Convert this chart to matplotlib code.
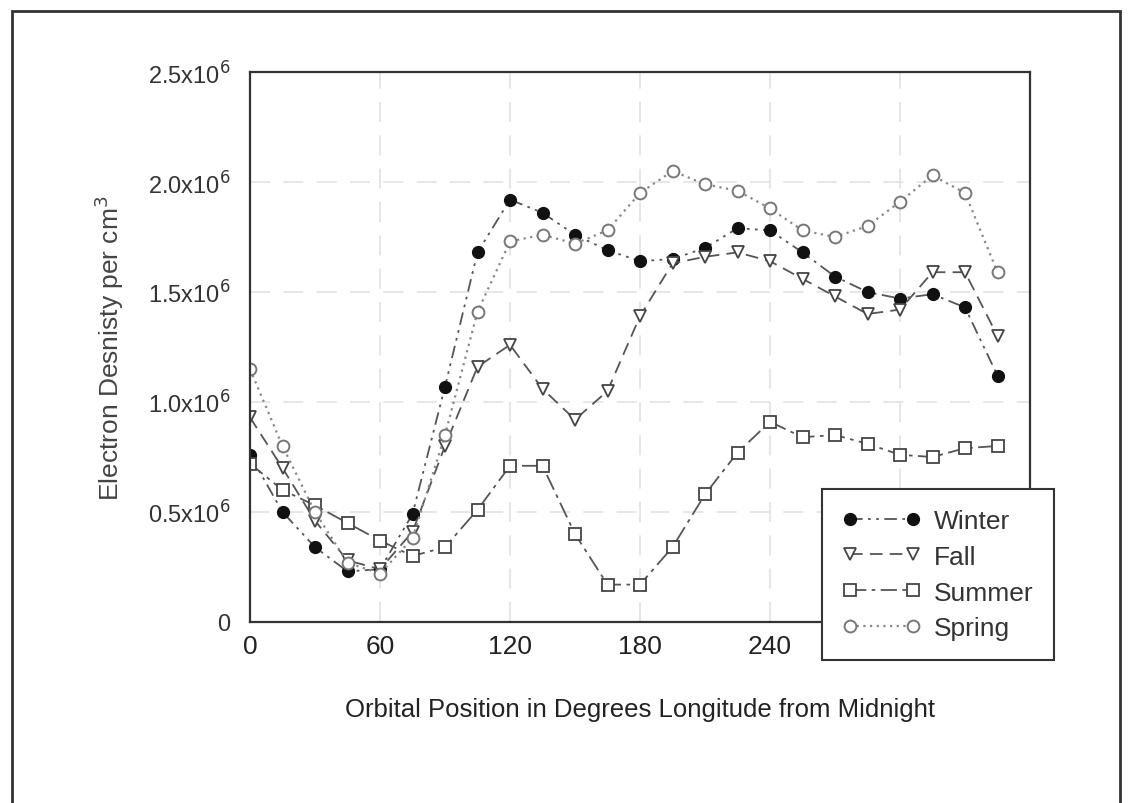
import matplotlib.pyplot as plt
from matplotlib.patches import Rectangle

# orbital position (degrees from midnight), 15 degree steps
longitude = list(range(0, 360, 15))

# electron density in units of 1e6 per cm^3
winter = [0.76, 0.50, 0.34, 0.23, 0.24, 0.49, 1.07, 1.68, 1.92, 1.86, 1.76, 1.69,
          1.64, 1.65, 1.70, 1.79, 1.78, 1.68, 1.57, 1.50, 1.47, 1.49, 1.43, 1.12]
fall = [0.93, 0.70, 0.46, 0.28, 0.24, 0.41, 0.80, 1.16, 1.26, 1.06, 0.92, 1.05,
        1.39, 1.63, 1.66, 1.68, 1.64, 1.56, 1.48, 1.40, 1.42, 1.59, 1.59, 1.30]
summer = [0.72, 0.60, 0.53, 0.45, 0.37, 0.30, 0.34, 0.51, 0.71, 0.71, 0.40, 0.17,
          0.17, 0.34, 0.58, 0.77, 0.91, 0.84, 0.85, 0.81, 0.76, 0.75, 0.79, 0.80]
spring = [1.15, 0.80, 0.50, 0.27, 0.22, 0.38, 0.85, 1.41, 1.73, 1.76, 1.72, 1.78,
          1.95, 2.05, 1.99, 1.96, 1.88, 1.78, 1.75, 1.80, 1.91, 2.03, 1.95, 1.59]

x_ticks = [0, 60, 120, 180, 240, 300, 360]
y_ticks = [0, 0.5, 1.0, 1.5, 2.0, 2.5]
y_labels = ['0', '0.5x10$^6$', '1.0x10$^6$', '1.5x10$^6$', '2.0x10$^6$', '2.5x10$^6$']

fonts = ['Liberation Sans Narrow', 'Liberation Sans', 'DejaVu Sans']
plt.rcParams['font.family'] = fonts

fig = plt.figure(figsize=(11.43, 8.04), dpi=100)
ax = fig.add_axes([250 / 1143, 181 / 804, 780 / 1143, 550 / 804])

ax.plot(longitude, winter, color='#555555', lw=1.3, ls=(0, (7, 3, 1.5, 3, 1.5, 3)),
        marker='o', ms=8.5, mfc='#111111', mec='#111111', label='Winter')
ax.plot(longitude, fall, color='#555555', lw=1.3, ls=(0, (7, 4)),
        marker='v', ms=8.5, mfc='white', mec='#444444', mew=1.3, label='Fall')
ax.plot(longitude, summer, color='#555555', lw=1.3, ls=(0, (9, 3, 2, 3)),
        marker='s', ms=8, mfc='white', mec='#444444', mew=1.3, label='Summer')
ax.plot(longitude, spring, color='#888888', lw=1.6, ls=(0, (1, 2)),
        marker='o', ms=8.5, mfc='white', mec='#777777', mew=1.4, label='Spring')

ax.set_xlim(0, 360)
ax.set_ylim(0, 2.5)
ax.set_xticks(x_ticks)
ax.set_xticklabels([str(t) for t in x_ticks], fontsize=19, color='#222222')
ax.set_yticks(y_ticks)
ax.set_yticklabels(y_labels, fontsize=17, color='#333333')
ax.tick_params(length=0, pad=14)
ax.tick_params(axis='x', pad=9)
ax.grid(True, color='#e2e2e2', lw=1.2, ls=(0, (12, 8)))

for s in ax.spines.values():
    s.set_color('#333333')
    s.set_linewidth(1.6)

ax.set_xlabel('Orbital Position in Degrees Longitude from Midnight',
              fontsize=18.5, color='#222222', labelpad=28)
ax.set_ylabel('Electron Desnisty per cm$^3$', fontsize=19, color='#444444', labelpad=16)

handles, labels = ax.get_legend_handles_labels()
leg = fig.legend(handles, labels, loc='upper left', bbox_to_anchor=(822 / 1143, 1 - 490 / 804),
                 fancybox=False, framealpha=1, edgecolor='#333333', fontsize=19,
                 numpoints=2, handlelength=3.0, labelspacing=0.45,
                 borderpad=0.75, handletextpad=0.5, borderaxespad=0)
leg.get_frame().set_linewidth(1.5)
leg.set_zorder(10)
for t in leg.get_texts():
    t.set_color('#333333')

# outer frame of the scanned page
fig.patches.append(Rectangle((12 / 1143, -0.05), 1108 / 1143, 1.05 - 12 / 804,
                             transform=fig.transFigure, fill=False,
                             edgecolor='#333333', lw=2))

fig.savefig('out.png', dpi=100)
